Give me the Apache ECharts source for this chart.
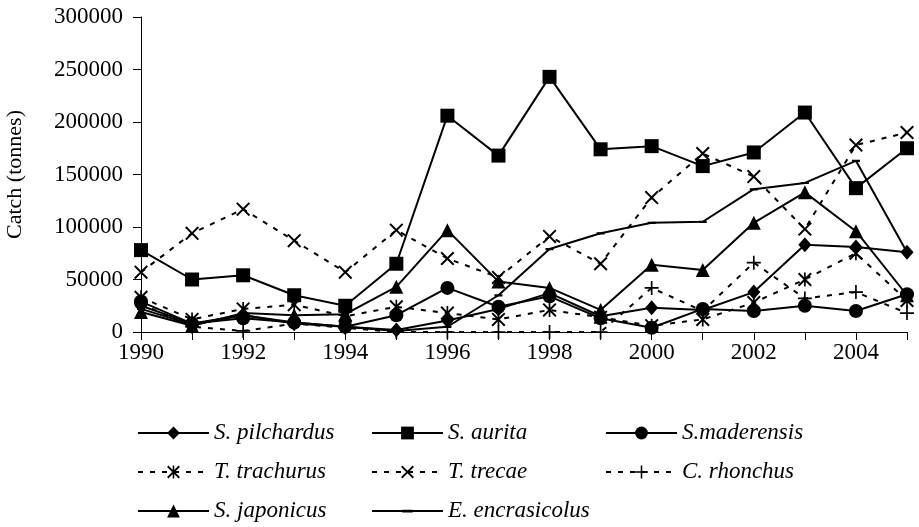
<!DOCTYPE html>
<html>
<head>
<meta charset="utf-8">
<script src="https://cdn.jsdelivr.net/npm/echarts@6/dist/echarts.min.js"></script>
<style>
  html, body { margin: 0; padding: 0; background: #fff; }
  #main { width: 919px; height: 527px; }
</style>
</head>
<body>
<div id="main"></div>
<script>
// years on the x axis
const years = ['1990', '1991', '1992', '1993', '1994', '1995', '1996', '1997',
  '1998', '1999', '2000', '2001', '2002', '2003', '2004', '2005'];

// catch (tonnes)
const pilchardus = [25000, 8000, 16000, 8000, 5000, 2000, 11000, 22000, 37000, 15000, 23000, 21000, 38000, 83000, 81000, 76000];
const aurita = [78000, 50000, 54000, 35000, 25000, 65000, 206000, 168000, 243000, 174000, 177000, 158000, 171000, 209000, 137000, 175000];
const maderensis = [29000, 8000, 13000, 9000, 5000, 16000, 42000, 24000, 34000, 13000, 4000, 22000, 20000, 25000, 20000, 36000];
const trachurus = [33000, 12000, 22000, 26000, 15000, 24000, 18000, 12000, 21000, 14000, 6000, 12000, 28000, 50000, 75000, 30000];
const trecae = [57000, 94000, 117000, 87000, 57000, 97000, 70000, 52000, 91000, 65000, 128000, 170000, 148000, 98000, 178000, 190000];
const rhonchus = [27000, 5000, 1000, 8000, 4000, 0, 0, 0, 0, 0, 42000, 20000, 66000, 32000, 38000, 18000];
const japonicus = [19000, 6000, 18000, 16000, 17000, 43000, 97000, 48000, 42000, 21000, 64000, 59000, 104000, 133000, 96000, 35000];
const encrasicolus = [22000, 7000, 16000, 9000, 5000, 1000, 5000, 35000, 79000, 94000, 104000, 105000, 136000, 142000, 163000, 76000];

// marker shapes (Excel style)
const xMark = 'path://M0,1 L1,0 L5,4 L9,0 L10,1 L6,5 L10,9 L9,10 L5,6 L1,10 L0,9 L4,5 Z';
const starMark = 'path://M0,1 L1,0 L5,4 L9,0 L10,1 L6,5 L10,9 L9,10 L5,6 L1,10 L0,9 L4,5 Z M4.4,0 L5.6,0 L5.6,10 L4.4,10 Z';
const plusMark = 'path://M4.4,0 L5.6,0 L5.6,4.4 L10,4.4 L10,5.6 L5.6,5.6 L5.6,10 L4.4,10 L4.4,5.6 L0,5.6 L0,4.4 L4.4,4.4 Z';
const dashMark = 'path://M0,0 L0,0 Z M10,10 L10,10 Z M1,4 L9,4 L9,6.2 L1,6.2 Z';

const font = 'Liberation Serif, Times New Roman, serif';
const solid = { color: '#000', width: 2, type: 'solid' };
const dotted = { color: '#000', width: 2, type: [5, 7] };

const mk = (name, data, symbol, size, lineStyle) => ({
  name: name,
  type: 'line',
  data: data,
  symbol: symbol,
  symbolSize: size,
  showAllSymbol: true,
  itemStyle: { color: '#000' },
  lineStyle: lineStyle,
  animation: false
});

// one legend per entry so the 3x3 grid lines up like the original
const legendCols = [137, 371, 605];
const legendRows = [433, 472, 511];
const legendOrder = [
  ['S. pilchardus', 'S. aurita', 'S.maderensis'],
  ['T. trachurus', 'T. trecae', 'C. rhonchus'],
  ['S. japonicus', 'E. encrasicolus']
];
const legends = [];
legendOrder.forEach((row, r) => {
  row.forEach((name, c) => {
    legends.push({
      data: [name],
      left: legendCols[c] - 5,
      top: legendRows[r] - 18,
      itemWidth: 71,
      itemHeight: 16,
      selectedMode: false,
      textStyle: { fontFamily: font, fontStyle: 'italic', fontSize: 23, color: '#000', lineHeight: 26 }
    });
  });
});

const option = {
  backgroundColor: '#fff',
  animation: false,
  grid: { left: 141, right: 12, top: 17, bottom: 195, outerBoundsMode: 'none' },
  legend: legends,
  xAxis: {
    type: 'category',
    data: years,
    boundaryGap: false,
    axisLine: { lineStyle: { color: '#000', width: 1 } },
    axisTick: { interval: 0, length: 8, lineStyle: { color: '#000' } },
    axisLabel: { interval: 1, margin: 9, color: '#000', fontFamily: font, fontSize: 23 },
    splitLine: { show: false }
  },
  yAxis: {
    type: 'value',
    min: 0,
    max: 300000,
    interval: 50000,
    name: 'Catch (tonnes)',
    nameLocation: 'middle',
    nameGap: 115,
    nameTextStyle: { fontFamily: font, fontSize: 22, color: '#000' },
    axisLine: { show: true, lineStyle: { color: '#000', width: 1 } },
    axisTick: { show: true, length: 8, lineStyle: { color: '#000' } },
    axisLabel: { margin: 18, color: '#000', fontFamily: font, fontSize: 23, formatter: (v) => String(v) },
    splitLine: { show: false }
  },
  series: [
    mk('S. pilchardus', pilchardus, 'diamond', [13, 15], solid),
    mk('S. aurita', aurita, 'rect', 14, solid),
    mk('S.maderensis', maderensis, 'circle', 14, solid),
    mk('T. trachurus', trachurus, starMark, 14, dotted),
    mk('T. trecae', trecae, xMark, 14, dotted),
    mk('C. rhonchus', rhonchus, plusMark, 14, dotted),
    mk('S. japonicus', japonicus, 'triangle', 14, solid),
    mk('E. encrasicolus', encrasicolus, dashMark, 10, solid)
  ]
};

const myChart = echarts.init(document.getElementById('main'));
myChart.setOption(option);
</script>
</body>
</html>
